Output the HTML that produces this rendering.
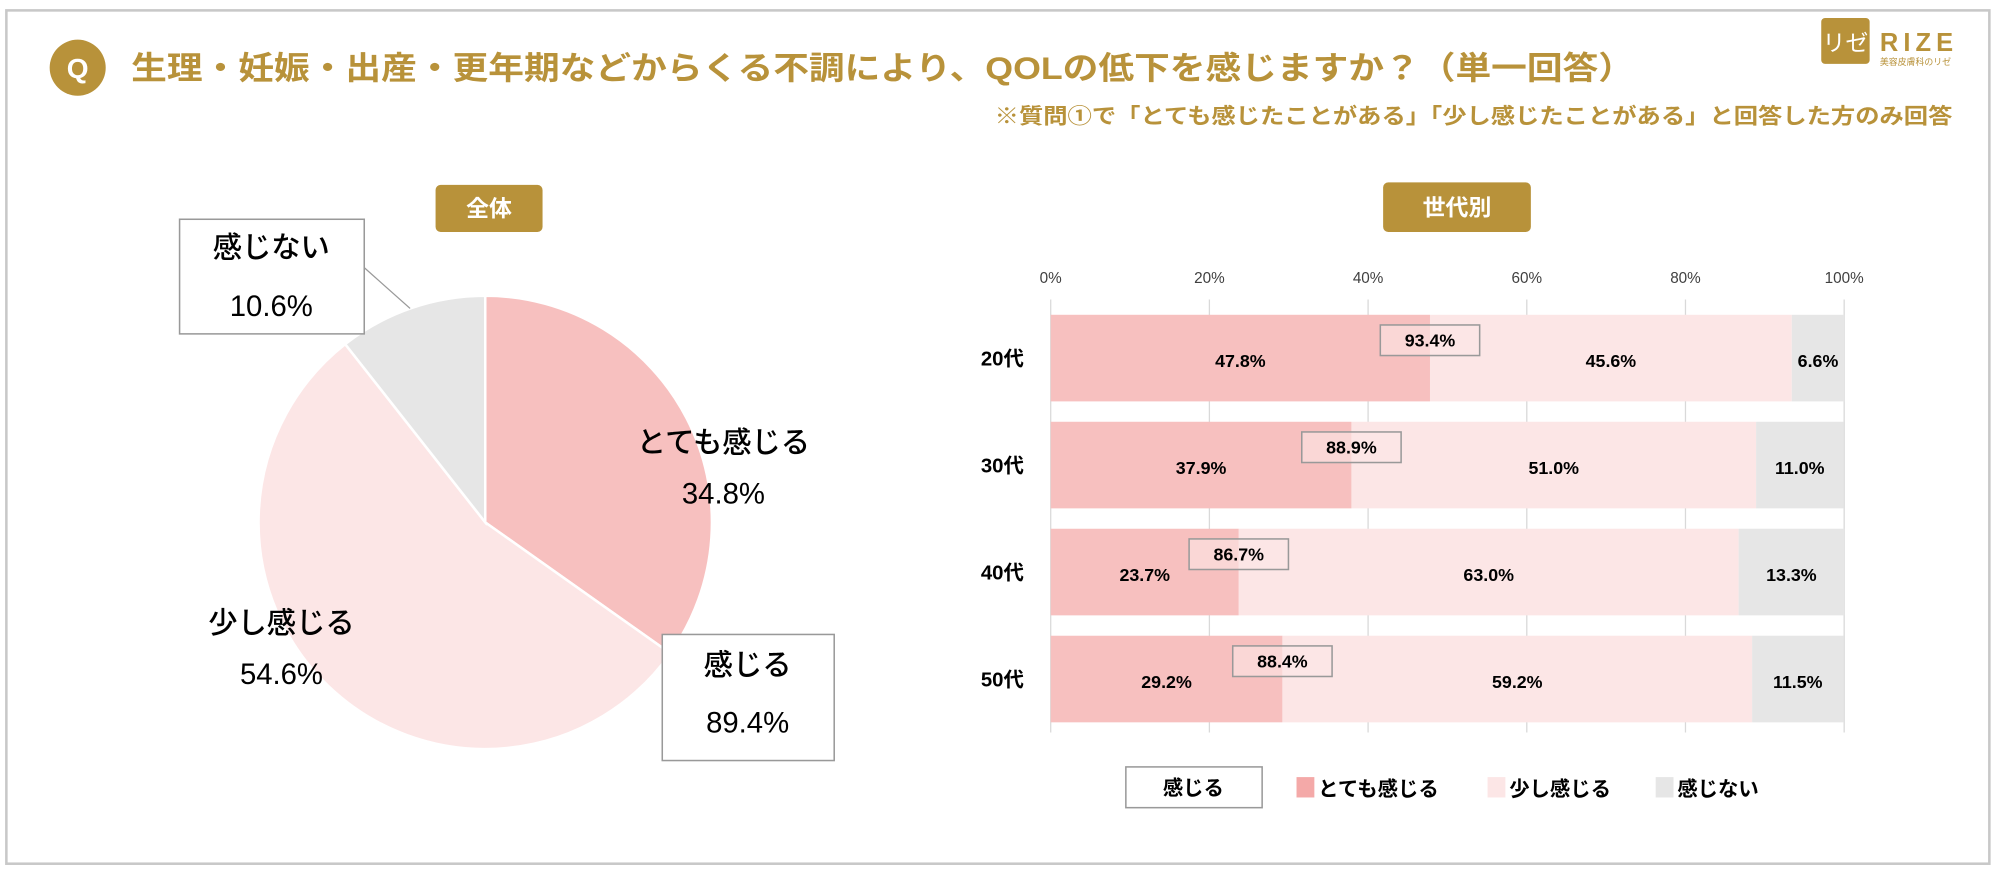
<!DOCTYPE html>
<html><head><meta charset="utf-8"><style>
html,body{margin:0;padding:0;background:#fff}
svg{display:block}
text{font-family:"Liberation Sans","Noto Sans CJK JP",sans-serif}
</style></head><body>
<svg id="root" width="1997" height="869" viewBox="0 0 1568 682" xmlns="http://www.w3.org/2000/svg">
<rect x="5" y="8" width="1557" height="670" fill="#fff" stroke="#c8c8c8" stroke-width="2"/>
<circle cx="61" cy="53" r="22" fill="#b8923a"/>
<text x="61" y="61" text-anchor="middle" font-size="22" font-weight="bold" fill="#fff">Q</text>
<text x="103" y="62" font-size="25" font-weight="bold" fill="#b8923a" textLength="1180" lengthAdjust="spacingAndGlyphs">生理・妊娠・出産・更年期などからくる不調により、QOLの低下を感じますか？（単一回答）</text>
<text x="781" y="97" font-size="17" font-weight="bold" fill="#b8923a" textLength="752" lengthAdjust="spacingAndGlyphs">※質問①で「とても感じたことがある」「少し感じたことがある」と回答した方のみ回答</text>
<g>
<rect x="1430" y="14" width="38" height="36" rx="3" fill="#b8923a"/>
<text x="1449" y="40" text-anchor="middle" font-size="18" fill="#fff">リゼ</text>
<text x="1476" y="40" font-size="20" font-weight="bold" fill="#b8923a" letter-spacing="4">RIZE</text>
<text x="1476" y="51" font-size="7" fill="#b8923a">美容皮膚科のリゼ</text>
</g>
<rect x="342" y="145" width="84" height="37" rx="4" fill="#b8923a"/>
<text x="384" y="170" text-anchor="middle" font-size="18" font-weight="bold" fill="#fff">全体</text>
<rect x="1086" y="143" width="116" height="39" rx="4" fill="#b8923a"/>
<text x="1144" y="169" text-anchor="middle" font-size="18" font-weight="bold" fill="#fff">世代別</text>
<g id="pie"></g>
<g id="bars"></g>
</svg>
<script>
const pieLabels=["とても感じる","少し感じる","感じない"];
const pieValues=[34.8,54.6,10.6];
const pieColors=["#f7c0bf","#fce6e6","#e6e6e6"];
const categories=["20代","30代","40代","50代"];
const strongValues=[47.8,37.9,23.7,29.2];
const mildValues=[45.6,51.0,63.0,59.2];
const noneValues=[6.6,11.0,13.3,11.5];
const tickLabels=["0%","20%","40%","60%","80%","100%"];
const NS="http://www.w3.org/2000/svg";
function mk(t,a,p,txt){const e=document.createElementNS(NS,t);for(const k in a)e.setAttribute(k,a[k]);if(txt!=null)e.textContent=txt;p.appendChild(e);return e;}
const pie=document.getElementById('pie');
const cx=381,cy=410,R=178;
let acc=0;const tot=pieValues.reduce((a,b)=>a+b,0);
pieValues.forEach((v,i)=>{
 const a0=acc/tot*2*Math.PI,a1=(acc+v)/tot*2*Math.PI;acc+=v;
 const x0=cx+R*Math.sin(a0),y0=cy-R*Math.cos(a0),x1=cx+R*Math.sin(a1),y1=cy-R*Math.cos(a1);
 const p=mk('path',{d:`M${cx},${cy}L${x0},${y0}A${R},${R} 0 ${a1-a0>Math.PI?1:0} 1 ${x1},${y1}Z`,fill:pieColors[i],stroke:'#fff','stroke-width':2},pie);
 
 
});
function lbl(x,y,s,name,size){const t=mk('text',{x:x,y:y,'text-anchor':'middle','font-size':size||23,'font-weight':'500',fill:'#000'},pie,s);
 
 }
lbl(568,355,pieLabels[0],'label-strong');lbl(568,395,pieValues[0].toFixed(1)+'%','value-strong');
lbl(221,497,pieLabels[1],'label-mild');lbl(221,537,pieValues[1].toFixed(1)+'%','value-mild');
const b1=mk('rect',{x:141,y:172,width:145,height:90,fill:'#fff',stroke:'#999','stroke-width':1.2},pie);


const ll=mk('line',{x1:286,y1:210,x2:322,y2:242,stroke:'#999','stroke-width':1},pie);


lbl(213,202,pieLabels[2],'label-none');lbl(213,248,pieValues[2].toFixed(1)+'%','value-none');
const b2=mk('rect',{x:520,y:498,width:135,height:99,fill:'#fff',stroke:'#999','stroke-width':1.2},pie);


lbl(587,530,'感じる','label-total');lbl(587,575,(pieValues[0]+pieValues[1]).toFixed(1)+'%','value-total');
const g=document.getElementById('bars');
const X0=825,X1=1448;const xs=v=>X0+(X1-X0)*v/100;
const rowTop=247,rowStep=84,barH=68;
tickLabels.forEach((t,i)=>{const v=i*20;
 const gl=mk('line',{x1:xs(v),y1:235,x2:xs(v),y2:575,stroke:'#d9d9d9','stroke-width':1},g);
 
 
 const tl=mk('text',{x:xs(v),y:222,'text-anchor':'middle','font-size':12,fill:'#404040'},g,t);
 
 
});
const segColors=["#f7c0bf","#fce6e6","#e6e6e6"];
categories.forEach((c,i)=>{
 const y=rowTop+i*rowStep;const vals=[strongValues[i],mildValues[i],noneValues[i]];
 const cl=mk('text',{x:787,y:y+barH/2+6,'text-anchor':'middle','font-size':16,'font-weight':'bold',fill:'#000'},g,c);
 
 
 let a=0;
 vals.forEach((v,j)=>{
  const r=mk('rect',{x:xs(a),y:y,width:xs(a+v)-xs(a),height:barH,fill:segColors[j]},g);
  
  
  const cxp=j==2?xs(a+v)-xs(a)<40?xs(a+v)-20:xs(a+v/2):xs(a+v/2);
  const tv=mk('text',{x:cxp,y:y+barH/2+7,'text-anchor':'middle','font-size':14,'font-weight':'bold',fill:'#000'},g,v.toFixed(1)+'%');
  
  
  a+=v;
 });
 const sx=xs(strongValues[i]);const sum=(strongValues[i]+mildValues[i]).toFixed(1)+'%';
 const br=mk('rect',{x:sx-39,y:y+8,width:78,height:24,fill:'#fce6e6','fill-opacity':0.6,stroke:'#999','stroke-width':1.2},g);
 
 
 const bt=mk('text',{x:sx,y:y+25,'text-anchor':'middle','font-size':14,'font-weight':'bold',fill:'#000'},g,sum);
 
 
});
const lg=mk('g',{},g);


const lb=mk('rect',{x:884,y:602,width:107,height:32,fill:'#fff',stroke:'#999','stroke-width':1.2},lg);


const lt=mk('text',{x:937,y:624,'text-anchor':'middle','font-size':16,'font-weight':'bold'},lg,'感じる');


const legX=[1018,1168,1300];const legC=["#f4a9a8","#fce6e6","#e6e6e6"];
pieLabels.forEach((l,i)=>{
 const s=mk('rect',{x:legX[i],y:610,width:14,height:16,fill:legC[i]},lg);
 
 
 const t=mk('text',{x:legX[i]+17,y:625,'font-size':16,'font-weight':'bold'},lg,l);
 
 
});
</script>
</body></html>
